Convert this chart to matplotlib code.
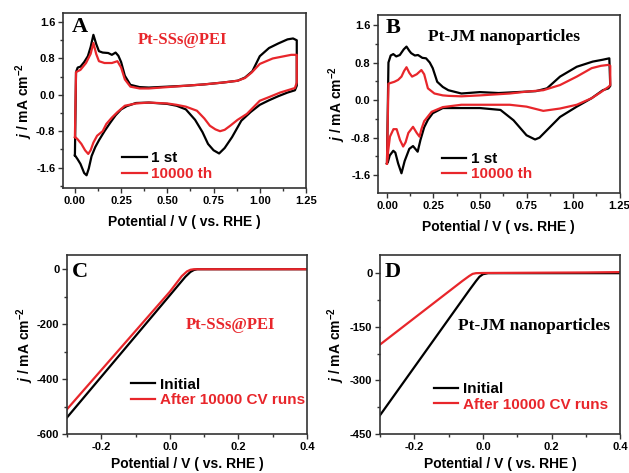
import matplotlib
matplotlib.use("Agg")
import matplotlib.pyplot as plt
import numpy as np
from matplotlib.ticker import MultipleLocator, FormatStrFormatter

plt.rcParams['font.family'] = ['Liberation Sans', 'DejaVu Sans']
plt.rcParams['mathtext.fontset'] = 'custom'
plt.rcParams['mathtext.it'] = 'Liberation Sans:bold:italic'
plt.rcParams['mathtext.rm'] = 'Liberation Sans:bold'
plt.rcParams['mathtext.bf'] = 'Liberation Sans:bold'
plt.rcParams['axes.unicode_minus'] = False

BLACK = '#000000'
RED = '#e8262b'

# ---------------- Panel A: Pt-SSs@PEI CV ----------------
a_1st_v = [0.0, 0.003, 0.006, 0.015, 0.03, 0.05, 0.07, 0.085, 0.1, 0.115, 0.13, 0.15, 0.18, 0.2, 0.22, 0.235, 0.25,
           0.27, 0.3, 0.35, 0.4, 0.5, 0.6, 0.7, 0.8, 0.88, 0.92, 0.96, 1.0, 1.05, 1.1, 1.15, 1.18, 1.2,
           1.2, 1.19, 1.15, 1.1, 1.05, 1.0, 0.95, 0.9, 0.85, 0.81, 0.78, 0.75, 0.72, 0.69, 0.65, 0.6, 0.55, 0.5,
           0.4, 0.33, 0.28, 0.25, 0.22, 0.19, 0.16, 0.13, 0.11, 0.09, 0.075, 0.063, 0.05, 0.03, 0.015, 0.005, 0.0]
a_1st_j = [-1.33, -0.4, 0.5, 0.6, 0.62, 0.72, 0.85, 1.05, 1.32, 1.12, 0.96, 0.93, 0.92, 0.88, 0.93, 0.86, 0.72,
           0.42, 0.22, 0.17, 0.16, 0.18, 0.2, 0.23, 0.27, 0.31, 0.38, 0.52, 0.85, 1.03, 1.13, 1.22, 1.24, 1.2,
           0.2, 0.1, 0.05, -0.03, -0.12, -0.22, -0.38, -0.57, -0.93, -1.17, -1.29, -1.22, -1.08, -0.82, -0.55, -0.32, -0.24, -0.2,
           -0.17, -0.18, -0.25, -0.32, -0.45, -0.62, -0.8, -1.0, -1.15, -1.35, -1.62, -1.77, -1.72, -1.52, -1.42, -1.36, -1.33]

a_10k_v = [0.0, 0.003, 0.006, 0.03, 0.06, 0.085, 0.1, 0.115, 0.13, 0.16, 0.2, 0.23, 0.25, 0.27, 0.3, 0.35, 0.4,
           0.5, 0.6, 0.7, 0.8, 0.88, 0.92, 0.956, 1.0, 1.07, 1.12, 1.17, 1.2,
           1.2, 1.19, 1.15, 1.11, 1.05, 1.0, 0.93, 0.88, 0.84, 0.81, 0.785, 0.76, 0.73, 0.7, 0.66, 0.6, 0.55, 0.5,
           0.4, 0.33, 0.27, 0.23, 0.2, 0.17, 0.15, 0.12, 0.1, 0.085, 0.072, 0.055, 0.035, 0.015, 0.005, 0.0]
a_10k_j = [-0.93, -0.2, 0.5, 0.55, 0.7, 0.9, 1.14, 0.9, 0.74, 0.7, 0.7, 0.74, 0.6, 0.34, 0.18, 0.14, 0.14,
           0.17, 0.2, 0.23, 0.27, 0.31, 0.37, 0.49, 0.68, 0.8, 0.84, 0.88, 0.88,
           0.27, 0.15, 0.1, 0.05, -0.05, -0.13, -0.42, -0.55, -0.68, -0.77, -0.8, -0.76, -0.68, -0.52, -0.35, -0.26, -0.22, -0.19,
           -0.17, -0.19, -0.24, -0.38, -0.5, -0.64, -0.8, -0.9, -1.05, -1.22, -1.3, -1.22, -1.08, -0.98, -0.94, -0.93]

# ---------------- Panel B: Pt-JM nanoparticles CV ----------------
b_1st_v = [0.0, 0.004, 0.008, 0.02, 0.034, 0.05, 0.069, 0.09, 0.105, 0.12, 0.13, 0.15, 0.167, 0.19, 0.21, 0.23, 0.246,
           0.27, 0.3, 0.33, 0.4, 0.5, 0.6, 0.7, 0.8, 0.86, 0.93, 1.02, 1.106, 1.16, 1.195,
           1.2, 1.19, 1.16, 1.1, 1.02, 0.93, 0.86, 0.82, 0.796, 0.75, 0.68, 0.61, 0.5, 0.4, 0.3, 0.246, 0.22, 0.2,
           0.18, 0.165, 0.14, 0.12, 0.095, 0.078, 0.06, 0.045, 0.034, 0.015, 0.005, 0.0]
b_1st_j = [-1.35, -0.3, 0.8, 0.95, 0.98, 0.93, 0.96, 1.08, 1.14, 1.05, 1.0, 0.95, 0.96, 0.9, 0.89, 0.8, 0.68,
           0.39, 0.28, 0.21, 0.14, 0.17, 0.15, 0.17, 0.19, 0.25, 0.5, 0.71, 0.82, 0.86, 0.89,
           0.3, 0.25, 0.21, 0.04, -0.14, -0.36, -0.64, -0.8, -0.84, -0.75, -0.43, -0.21, -0.17, -0.17, -0.17, -0.28, -0.42, -0.58,
           -0.85, -1.1, -0.98, -1.04, -1.3, -1.56, -1.35, -1.12, -1.08, -1.18, -1.32, -1.35]

b_10k_v = [0.0, 0.004, 0.008, 0.04, 0.06, 0.078, 0.092, 0.105, 0.12, 0.135, 0.16, 0.185, 0.2, 0.22, 0.255, 0.3, 0.33,
           0.4, 0.5, 0.66, 0.75, 0.84, 0.93, 1.02, 1.1, 1.15, 1.19, 1.2,
           1.2, 1.19, 1.15, 1.1, 1.02, 0.93, 0.84, 0.75, 0.66, 0.5, 0.4, 0.3, 0.24, 0.2, 0.185, 0.175, 0.16,
           0.14, 0.115, 0.1, 0.087, 0.07, 0.052, 0.035, 0.016, 0.006, 0.0]
b_10k_j = [-1.35, -0.5, 0.35, 0.39, 0.43, 0.5, 0.62, 0.7, 0.58, 0.5, 0.55, 0.64, 0.55, 0.25, 0.14, 0.1, 0.09,
           0.08, 0.1, 0.14, 0.18, 0.21, 0.32, 0.5, 0.68, 0.73, 0.75, 0.73,
           0.32, 0.28, 0.17, 0.04, -0.1, -0.18, -0.23, -0.14, -0.1, -0.1, -0.1, -0.15, -0.25, -0.45, -0.62, -0.78, -0.7,
           -0.57, -0.7, -0.9, -0.99, -0.85, -0.62, -0.62, -0.78, -1.1, -1.35]

# ---------------- Panel C / D: polarization curves ----------------
c_init_v = [-0.3, 0.0, 0.045, 0.06, 0.07, 0.08, 0.1, 0.2, 0.3, 0.4]
c_init_j = [-540, -95, -28, -10, -3, 0, 0, 0, 0, 0]
c_after_v = [-0.3, 0.0, 0.035, 0.05, 0.06, 0.07, 0.1, 0.2, 0.3, 0.4]
c_after_j = [-510, -82, -25, -8, -2, 0, 0, 0, 0, 0]

d_init_v = [-0.3, -0.04, -0.02, -0.01, 0.0, 0.015, 0.03, 0.1, 0.2, 0.3, 0.4]
d_init_j = [-398, -48, -22, -10, -3, 0, 0, 0, 0, 0, 0]
d_after_v = [-0.3, -0.06, -0.04, -0.03, -0.02, 0.0, 0.1, 0.2, 0.3, 0.4]
d_after_j = [-200, -22, -8, -2, 0, 0.5, 1, 1.5, 2, 3]

XLABEL = "Potential / V ( vs. RHE )"
YLABEL = r"$j$ / mA cm$^{-2}$"

fig = plt.figure(figsize=(6.29, 4.73), dpi=100)
axA = fig.add_axes([0.100, 0.6025, 0.3865, 0.370])
axB = fig.add_axes([0.601, 0.592, 0.384, 0.376])
axC = fig.add_axes([0.1065, 0.0825, 0.3815, 0.3785])
axD = fig.add_axes([0.604, 0.0825, 0.382, 0.3785])

lw = 1.6

def style(ax, xpad, ypad):
    for s in ax.spines.values():
        s.set_linewidth(1.2)
        s.set_color('#333333')
    ax.tick_params(which='both', direction='out', width=1.0, color='#333333',
                   labelsize=8, pad=2)
    ax.tick_params(which='major', length=3.5)
    ax.tick_params(which='minor', length=2)
    for t in ax.get_xticklabels() + ax.get_yticklabels():
        t.set_fontweight('bold')
    ax.set_xlabel(XLABEL, fontsize=10, fontweight='bold', labelpad=xpad)
    ax.set_ylabel(YLABEL, fontsize=10, fontweight='bold', labelpad=ypad)

def legend(ax, labels, x, y):
    leg = ax.legend(labels, loc='lower left', bbox_to_anchor=(x, y), frameon=False,
                    prop={'family': 'Liberation Sans', 'weight': 'bold', 'size': 11},
                    handlelength=1.6, handletextpad=0.3, labelspacing=0.1,
                    borderpad=0, borderaxespad=0, labelcolor='linecolor')
    return leg

# Panel A
axA.plot(a_1st_v, a_1st_j, color=BLACK, lw=lw)
axA.plot(a_10k_v, a_10k_j, color=RED, lw=lw)
axA.set_xlim(-0.065, 1.25)
axA.set_ylim(-2.05, 1.8)
axA.xaxis.set_major_locator(MultipleLocator(0.25))
axA.xaxis.set_minor_locator(MultipleLocator(0.125))
axA.yaxis.set_major_locator(MultipleLocator(0.8))
axA.yaxis.set_minor_locator(MultipleLocator(0.4))
axA.xaxis.set_major_formatter(FormatStrFormatter('%.2f'))
axA.yaxis.set_major_formatter(FormatStrFormatter('%.1f'))
style(axA, 7, 0.5)
legend(axA, ['1 st', '10000 th'], 0.245, 0.04)
axA.text(0.035, 0.92, 'A', transform=axA.transAxes, family='Liberation Serif', weight='bold',
         fontsize=16, va='center', ha='left')
axA.text(0.49, 0.846, 'Pt-SSs@PEI', transform=axA.transAxes, family='Liberation Serif', weight='bold',
         fontsize=12, va='center', ha='center', color=RED)

# Panel B
axB.plot(b_1st_v, b_1st_j, color=BLACK, lw=lw)
axB.plot(b_10k_v, b_10k_j, color=RED, lw=lw)
axB.set_xlim(-0.048, 1.25)
axB.set_ylim(-1.98, 1.81)
axB.xaxis.set_major_locator(MultipleLocator(0.25))
axB.xaxis.set_minor_locator(MultipleLocator(0.125))
axB.yaxis.set_major_locator(MultipleLocator(0.8))
axB.yaxis.set_minor_locator(MultipleLocator(0.4))
axB.xaxis.set_major_formatter(FormatStrFormatter('%.2f'))
axB.yaxis.set_major_formatter(FormatStrFormatter('%.1f'))
style(axB, 7, 2)
legend(axB, ['1 st', '10000 th'], 0.265, 0.065)
axB.text(0.03, 0.927, 'B', transform=axB.transAxes, family='Liberation Serif', weight='bold',
         fontsize=16, va='center', ha='left')
axB.text(0.52, 0.876, 'Pt-JM nanoparticles', transform=axB.transAxes, family='Liberation Serif',
         weight='bold', fontsize=12.5, va='center', ha='center', color=BLACK)

# Panel C
axC.plot(c_init_v, c_init_j, color=BLACK, lw=lw)
axC.plot(c_after_v, c_after_j, color=RED, lw=lw)
axC.set_xlim(-0.3, 0.4)
axC.set_ylim(-600, 52)
axC.xaxis.set_major_locator(MultipleLocator(0.2))
axC.xaxis.set_minor_locator(MultipleLocator(0.1))
axC.yaxis.set_major_locator(MultipleLocator(200))
axC.yaxis.set_minor_locator(MultipleLocator(100))
axC.xaxis.set_major_formatter(FormatStrFormatter('%.1f'))
style(axC, 4, 0.5)
legend(axC, ['Initial', 'After 10000 CV runs'], 0.265, 0.15)
axC.text(0.02, 0.907, 'C', transform=axC.transAxes, family='Liberation Serif', weight='bold',
         fontsize=16, va='center', ha='left')
axC.text(0.68, 0.61, 'Pt-SSs@PEI', transform=axC.transAxes, family='Liberation Serif', weight='bold',
         fontsize=12, va='center', ha='center', color=RED)

# Panel D
axD.plot(d_init_v, d_init_j, color=BLACK, lw=lw)
axD.plot(d_after_v, d_after_j, color=RED, lw=lw)
axD.set_xlim(-0.3, 0.4)
axD.set_ylim(-450, 51)
axD.xaxis.set_major_locator(MultipleLocator(0.2))
axD.xaxis.set_minor_locator(MultipleLocator(0.1))
axD.yaxis.set_major_locator(MultipleLocator(150))
axD.yaxis.set_minor_locator(MultipleLocator(75))
axD.xaxis.set_major_formatter(FormatStrFormatter('%.1f'))
style(axD, 4, 2)
legend(axD, ['Initial', 'After 10000 CV runs'], 0.225, 0.125)
axD.text(0.02, 0.907, 'D', transform=axD.transAxes, family='Liberation Serif', weight='bold',
         fontsize=16, va='center', ha='left')
axD.text(0.64, 0.603, 'Pt-JM nanoparticles', transform=axD.transAxes, family='Liberation Serif',
         weight='bold', fontsize=12.5, va='center', ha='center', color=BLACK)

fig.savefig('out.png', dpi=100)
